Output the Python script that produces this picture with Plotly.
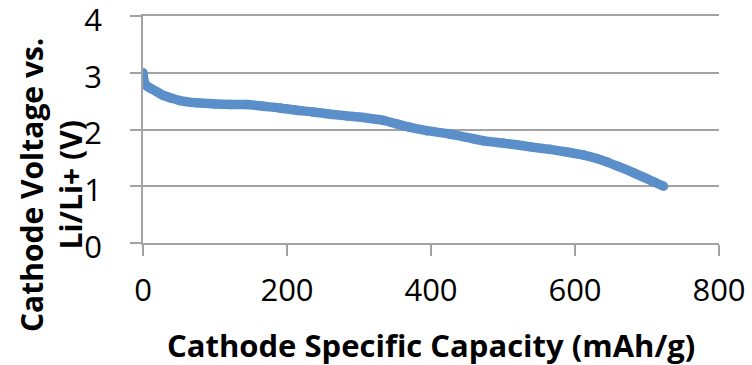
import plotly.graph_objects as go

capacity = [0, 1, 3, 6, 10, 20, 28, 40, 51, 75, 100, 121, 144, 167, 190, 213, 236, 260, 283, 306,
            334, 352, 370, 394, 426, 450, 473, 500, 519, 540, 565, 590, 612, 630, 644, 660, 681, 695, 709, 723]
voltage = [3.00, 2.88, 2.80, 2.76, 2.73, 2.66, 2.60, 2.55, 2.51, 2.47, 2.45, 2.44, 2.44, 2.41, 2.38, 2.34,
           2.31, 2.27, 2.24, 2.21, 2.16, 2.10, 2.04, 1.98, 1.92, 1.86, 1.80, 1.76, 1.73, 1.69, 1.65, 1.60,
           1.55, 1.49, 1.43, 1.35, 1.24, 1.16, 1.08, 1.00]
x_ticks = [0, 200, 400, 600, 800]
y_ticks = [0, 1, 2, 3, 4]
x_title = "Cathode Specific Capacity (mAh/g)"
y_title = "Cathode Voltage vs.<br>Li/Li+ (V)"

FONT = "Open Sans"
GRID = "#a3a3a3"
BLUE = "#5a8fca"

fig = go.Figure()
fig.add_trace(go.Scatter(
    x=capacity, y=voltage, mode="lines+markers",
    line=dict(color=BLUE, width=9.5, shape="spline", smoothing=0.6),
    marker=dict(color=BLUE, size=9.5, line=dict(width=0)),
    showlegend=False, hoverinfo="skip",
))

fig.update_layout(
    width=752, height=365,
    margin=dict(l=143, r=33, t=16, b=122),
    paper_bgcolor="white", plot_bgcolor="white",
    font=dict(family=FONT, color="black"),
    xaxis=dict(
        range=[0, 800], tickvals=x_ticks, showgrid=False, zeroline=False, automargin=False,
        showline=True, mirror=True, linecolor=GRID, linewidth=1.5,
        ticks="outside", ticklen=11, tickwidth=1.5, tickcolor=GRID,
        tickfont=dict(size=31, family=FONT), ticklabelstandoff=8,
        ticklabeloverflow="allow",
    ),
    yaxis=dict(
        range=[0, 4], tickvals=y_ticks, showgrid=True, gridcolor=GRID, gridwidth=1.5,
        zeroline=False, showline=True, linecolor=GRID, linewidth=1.5, automargin=False,
        ticks="outside", ticklen=11, tickwidth=1.5, tickcolor=GRID,
        tickfont=dict(size=31, family=FONT), ticklabelstandoff=22, ticklabelshift=4,
        ticklabeloverflow="allow",
    ),
    annotations=[
        dict(
            text="<b>" + y_title + "</b>", xref="paper", yref="paper",
            x=(51 - 143) / 576, y=(243 - 185) / 227, xanchor="center", yanchor="middle",
            textangle=-90, showarrow=False, font=dict(size=30, family=FONT, color="black"),
        ),
        dict(
            text="<b>" + x_title + "</b>", xref="paper", yref="paper",
            x=(431 - 143) / 576, y=(243 - 345) / 227, xanchor="center", yanchor="middle",
            showarrow=False, font=dict(size=31, family=FONT, color="black"),
        ),
    ],
)

fig.write_html("out.html")
